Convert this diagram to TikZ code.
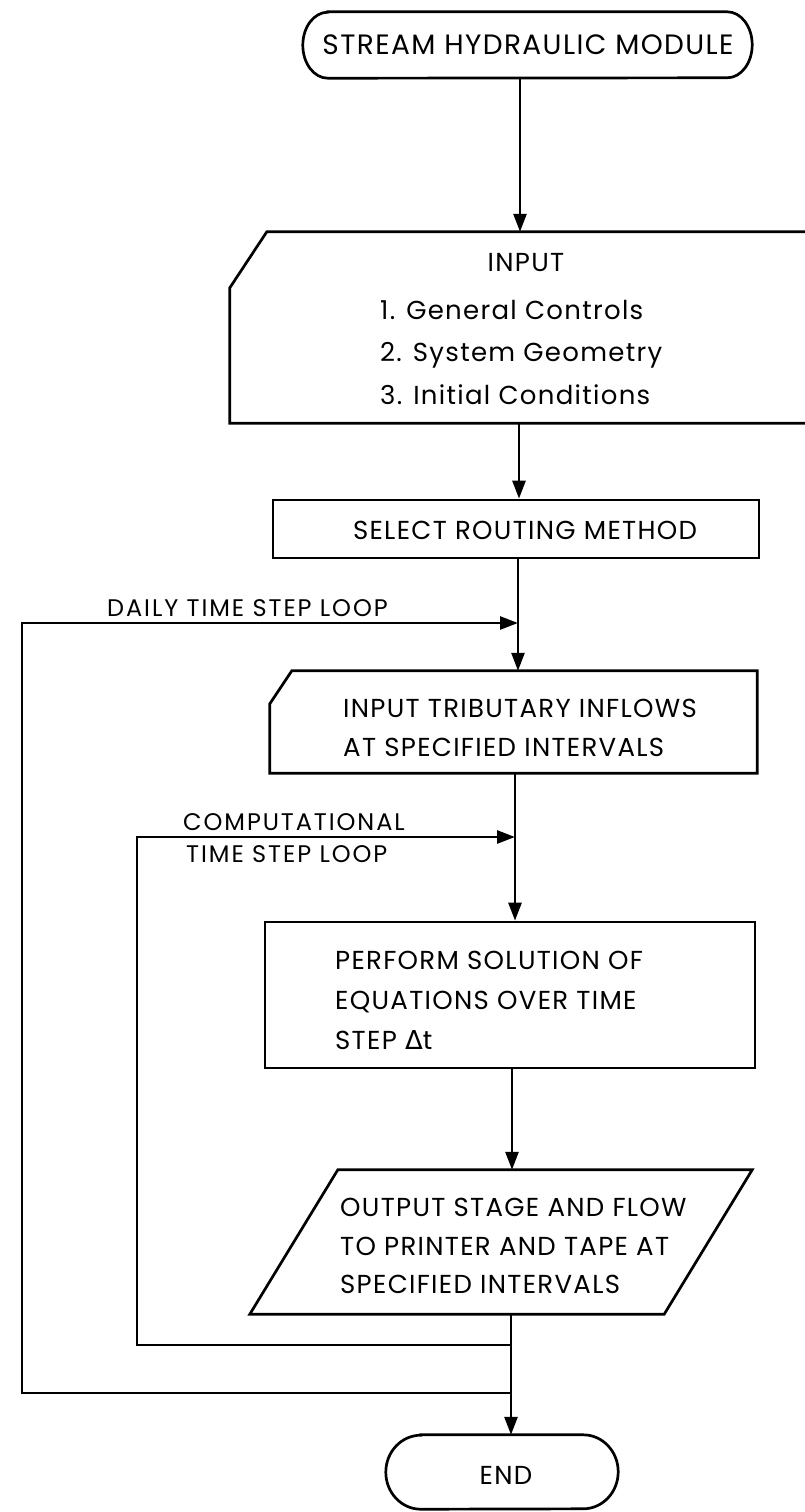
\documentclass[tikz,border=0pt]{standalone}
\usepackage{fontspec}
\setmainfont{Poppins}[LetterSpace=5]
\newfontfamily\lblfont{Poppins}[LetterSpace=8]
\newfontfamily\symfont{DejaVu Sans}
\usetikzlibrary{arrows.meta,calc}
\begin{document}
\begin{tikzpicture}[x=1pt,y=-1pt,
  frame/.style={rectangle, draw=none, inner sep=0pt},
  boxdraw/.style={rectangle, draw, line width=2.7pt, inner sep=0pt},
  outline/.style={draw, line width=2.7pt, line join=miter},
  arr/.style={draw, line width=2.7pt, -{Triangle[length=18pt,width=13pt]}},
  txt/.style={inner sep=0pt, font=\fontsize{26}{30}\selectfont},
  lbl/.style={inner sep=0pt, font=\lblfont\fontsize{24}{28}\selectfont},
  ttl/.style={inner sep=0pt, font=\fontsize{28}{32}\selectfont}]
\fill[white] (0,0) rectangle (805,1512);
\useasboundingbox (0,0) rectangle (805,1512);

% stem columns
\coordinate (s1) at (520,0);
\coordinate (s2) at (519,0);
\coordinate (s3) at (518,0);
\coordinate (s4) at (515,0);
\coordinate (s5) at (512,0);
\coordinate (s6) at (511,0);

% start terminator
\node[frame, minimum width=449pt, minimum height=66pt] (T) at (527.5,45) {};
\draw[outline] ($(T.north west)+(25,0)$) -- ($(T.north east)+(-25,0)$)
  arc[start angle=90, end angle=-90, x radius=25pt, y radius=33pt]
  -- ($(T.south west)+(25,0)$)
  arc[start angle=270, end angle=90, x radius=25pt, y radius=33pt] -- cycle;
\node[ttl, anchor=base] (Tt) at (528,55) {STREAM HYDRAULIC MODULE};

% input box (chamfered top-left corner, runs off the right edge)
\node[frame, minimum width=600pt, minimum height=191pt] (IN) at (530,327.5) {};
\draw[outline] ($(IN.north west)+(0,56)$) -- ($(IN.north west)+(37,0)$)
  -- (IN.north east) -- (IN.south east) -- (IN.south west) -- cycle;
\node[txt, anchor=base] (IN0) at (526,271) {INPUT};
\node[txt, anchor=base west] (IN1) at (380,319) {1. General Controls};
\node[txt, anchor=base west] (IN2) at (380,361) {2. System Geometry};
\node[txt, anchor=base west] (IN3) at (380,404) {3. Initial Conditions};

% select routing method
\node[boxdraw, minimum width=486pt, minimum height=58pt] (SEL) at (516,529) {};
\node[txt, anchor=base] (SELt) at (525,539) {SELECT ROUTING METHOD};

% input tributary inflows
\node[frame, minimum width=487pt, minimum height=102pt] (TRIB) at (513.5,722) {};
\draw[outline] ($(TRIB.north west)+(0,33)$) -- ($(TRIB.north west)+(22,0)$)
  -- (TRIB.north east) -- (TRIB.south east) -- (TRIB.south west) -- cycle;
\node[txt, anchor=base west] (TR1) at (343,717) {INPUT TRIBUTARY INFLOWS};
\node[txt, anchor=base west] (TR2) at (343,756) {AT SPECIFIED INTERVALS};

% perform solution
\node[boxdraw, minimum width=490pt, minimum height=146pt] (PERF) at (510,995) {};
\node[txt, anchor=base west] (PE1) at (335,969) {PERFORM SOLUTION OF};
\node[txt, anchor=base west] (PE2) at (335,1009) {EQUATIONS OVER TIME};
\node[txt, anchor=base west] (PE3) at (335,1049) {STEP {\symfont Δ}t};

% output parallelogram
\node[frame, minimum width=502pt, minimum height=144pt] (OUT) at (501,1242) {};
\draw[outline] ($(OUT.north west)+(88,0)$) -- (OUT.north east)
  -- ($(OUT.south east)+(-88,0)$) -- (OUT.south west) -- cycle;
\node[txt, anchor=base west] (OU1) at (340,1216) {OUTPUT STAGE AND FLOW};
\node[txt, anchor=base west] (OU2) at (340,1255) {TO PRINTER AND TAPE AT};
\node[txt, anchor=base west] (OU3) at (340,1293) {SPECIFIED INTERVALS};

% end terminator
\node[frame, minimum width=232pt, minimum height=74pt] (END) at (502,1472) {};
\draw[outline] ($(END.north west)+(35,0)$) -- ($(END.north east)+(-35,0)$)
  arc[start angle=90, end angle=-90, x radius=35pt, y radius=37pt]
  -- ($(END.south west)+(35,0)$)
  arc[start angle=270, end angle=90, x radius=35pt, y radius=37pt] -- cycle;
\node[txt, anchor=base] (ENDt) at (506,1484) {END};

% main flow
\draw[arr] (T.south -| s1) -- (IN.north -| s1);
\draw[arr] (IN.south -| s2) -- (SEL.north -| s2);
\draw[arr] (SEL.south -| s3) -- (TRIB.north -| s3);
\draw[arr] (TRIB.south -| s4) -- (PERF.north -| s4);
\draw[arr] (PERF.south -| s5) -- (OUT.north -| s5);
\draw[arr] (OUT.south -| s6) -- (END.north -| s6);

% loops
\coordinate (cj) at (511,1345);
\coordinate (cc) at (137,837);
\coordinate (dj) at (511,1393);
\coordinate (dc) at (22,623);
\draw[arr] (cj) -| (cc) -- (s4 |- cc);
\draw[arr] (dj) -| (dc) -- (s3 |- dc);
\node[lbl, anchor=base west] (DL) at (107,616) {DAILY TIME STEP LOOP};
\node[lbl, anchor=base west] (CL1) at (183,830) {COMPUTATIONAL};
\node[lbl, anchor=base west] (CL2) at (186,862) {TIME STEP LOOP};
\end{tikzpicture}
\end{document}
